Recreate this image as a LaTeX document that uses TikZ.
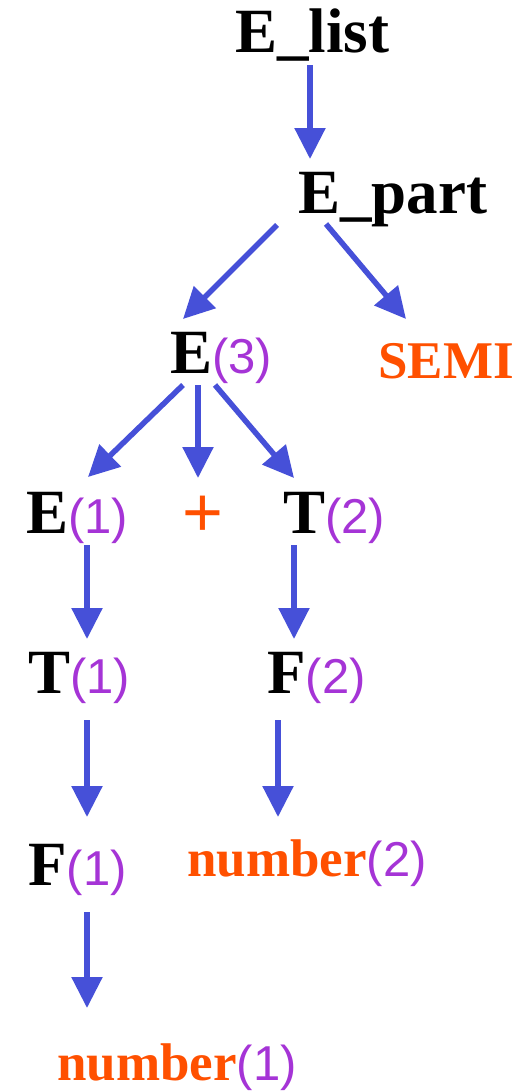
\documentclass[tikz,border=0pt]{standalone}
\usepackage{fontspec}
\setmainfont{Liberation Serif}
\newfontfamily\arialfont{Liberation Sans}
\usepackage{tikz}
\usetikzlibrary{arrows.meta}
\usepackage{xcolor}
\definecolor{arrowblue}{HTML}{4650D8}
\definecolor{tokorange}{HTML}{FF5000}
\definecolor{attrpurple}{HTML}{A534D6}

\newcommand{\ntsym}[1]{{\fontsize{63}{70}\selectfont\bfseries #1}}
\newcommand{\tksym}[1]{{\fontsize{53}{60}\selectfont\bfseries\color{tokorange}#1}}
\newcommand{\attr}[1]{{\arialfont\fontsize{49}{54}\selectfont\color{attrpurple}(#1)}}

\begin{document}
\begin{tikzpicture}[
  x=1pt, y=-1pt,
  lbl/.style={inner sep=0pt, anchor=base west},
  arr/.style={-{Triangle[width=30pt,length=31pt]}, line width=5.5pt, draw=arrowblue}
]
  \useasboundingbox (0,0) rectangle (527,1092);

  % Row 1: start symbol
  \node[lbl] (elist) at (235,52) {\ntsym{E\_list}};

  % Row 2
  \node[lbl] (epart) at (298,213) {\ntsym{E\_part}};

  % Row 3
  \node[lbl] (e3) at (170,373) {\ntsym{E}\attr{3}};
  \node[lbl] (semi) at (378,378) {\tksym{SEMI}};

  % Row 4
  \node[lbl] (e1) at (26,533) {\ntsym{E}\attr{1}};
  \node[lbl, text=tokorange] (plus) at (182,536) {\arialfont\fontsize{70}{72}\selectfont +};
  \node[lbl] (t2) at (283,533) {\ntsym{T}\attr{2}};

  % Row 5
  \node[lbl] (t1) at (28,693) {\ntsym{T}\attr{1}};
  \node[lbl] (f2) at (267,693) {\ntsym{F}\attr{2}};

  % Row 6
  \node[lbl] (f1) at (28,885) {\ntsym{F}\attr{1}};
  \node[lbl] (num2) at (187,876) {\tksym{number}\attr{2}};

  % Row 7
  \node[lbl] (num1) at (57,1080) {\tksym{number}\attr{1}};

  % Derivation arrows
  \draw[arr] ([shift={(75,13)}]elist.base west) -- ([shift={(12,-54)}]epart.base west);
  \draw[arr] ([shift={(-21,12)}]epart.base west) -- ([shift={(13,-54)}]e3.base west);
  \draw[arr] ([shift={(28,11)}]epart.base west) -- ([shift={(28,-59)}]semi.base west);

  \draw[arr] ([shift={(13,12)}]e3.base west) -- ([shift={(62,-56)}]e1.base west);
  \draw[arr] ([shift={(28,12)}]e3.base west) -- ([shift={(16,-58)}]plus.base west);
  \draw[arr] ([shift={(45,12)}]e3.base west) -- ([shift={(11,-55)}]t2.base west);

  \draw[arr] ([shift={(61,12)}]e1.base west) -- ([shift={(59,-54)}]t1.base west);
  \draw[arr] ([shift={(11,12)}]t2.base west) -- ([shift={(27,-54)}]f2.base west);

  \draw[arr] ([shift={(59,27)}]t1.base west) -- ([shift={(59,-68)}]f1.base west);
  \draw[arr] ([shift={(11,27)}]f2.base west) -- ([shift={(91,-59)}]num2.base west);

  \draw[arr] ([shift={(59,27)}]f1.base west) -- ([shift={(30,-72)}]num1.base west);

\end{tikzpicture}
\end{document}
